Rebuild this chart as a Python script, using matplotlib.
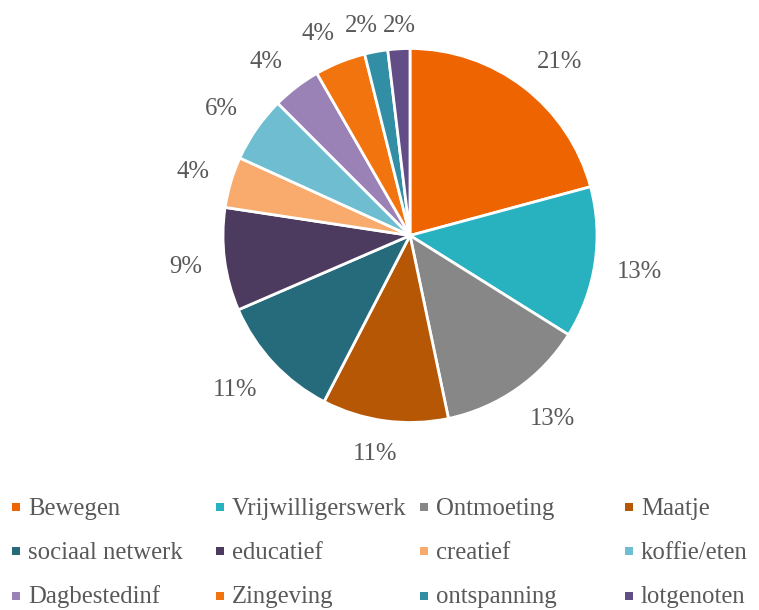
import matplotlib
matplotlib.use("Agg")
import numpy as np
import matplotlib.pyplot as plt
from matplotlib.patches import Rectangle

categories = ["Bewegen", "Vrijwilligerswerk", "Ontmoeting", "Maatje",
              "sociaal netwerk", "educatief", "creatief", "koffie/eten",
              "Dagbestedinf", "Zingeving", "ontspanning", "lotgenoten"]
shares = [20.8, 13.1, 12.8, 10.9, 10.9, 8.9, 4.4, 5.7, 4.2, 4.4, 2.0, 1.9]
colors = ["#EE6400", "#28B1BF", "#878787", "#B55705",
          "#256B7C", "#4D3A5F", "#F8AB6C", "#6EBDD0",
          "#9A82B6", "#F2740E", "#318EA5", "#634D86"]

plt.rcParams['font.family'] = ['Liberation Serif', 'DejaVu Serif']
W, H = 759, 610
fig = plt.figure(figsize=(W / 100, H / 100), dpi=100)
txt_color = "#595959"
FS = 17.8

cx, cy, r = 410, 235.5, 187
ax = fig.add_axes([(cx - r) / W, (H - cy - r) / H, 2 * r / W, 2 * r / H])
wedges, _ = ax.pie(shares, colors=colors, startangle=90, counterclock=False,
                   wedgeprops=dict(edgecolor="white", linewidth=2))
ax.set_xlim(-1, 1)
ax.set_ylim(-1, 1)
ax.set_aspect("equal")
ax.axis("off")

# outside-end data labels (Excel-like placement), working in pixels
fig.canvas.draw()
renderer = fig.canvas.get_renderer()
total = sum(shares)
gap, half_h, cap, k = 22, 9.5, 16.5, 2.3
top_limit = 211.5          # labels may not rise above this (chart-area edge)
texts, pos, halfw = [], [], []
for w, v in zip(wedges, shares):
    ang = np.deg2rad((w.theta1 + w.theta2) / 2)
    ux, uy = np.cos(ang), np.sin(ang)
    t = ax.text(0, 0, f"{v / total * 100:.0f}%", fontsize=FS, color=txt_color,
                ha="center", va="baseline", clip_on=False)
    bw = t.get_window_extent(renderer).width / 2
    px = (r + gap) * ux + bw * np.clip(k * ux, -1, 1)
    py = (r + gap) * uy + half_h * np.clip(k * uy, -1, 1)
    py = min(py, top_limit)
    texts.append(t)
    pos.append([px, py])
    halfw.append(bw)

# push apart neighbouring labels that collide
for _ in range(5):
    for i in range(len(pos) - 1):
        j = i + 1
        dx = pos[j][0] - pos[i][0]
        dy = pos[j][1] - pos[i][1]
        need = halfw[i] + halfw[j] + 5
        if abs(dy) < 20 and abs(dx) < need:
            s = (need - abs(dx)) / 2
            sign = 1 if dx >= 0 else -1
            pos[i][0] -= sign * s
            pos[j][0] += sign * s

for t, (px, py) in zip(texts, pos):
    t.set_position((px / r, (py - cap / 2) / r))

# legend laid out like the original (4 equal columns)
col_x = [12, 216, 420, 625]
row_y = [507, 551, 595.5]
sq = 8
for i, (lab, c) in enumerate(zip(categories, colors)):
    col, row = i % 4, i // 4
    x, y = col_x[col], row_y[row]
    fig.patches.append(Rectangle((x / W, (H - y - sq / 2) / H), sq / W, sq / H,
                                 transform=fig.transFigure, facecolor=c,
                                 edgecolor="none"))
    fig.text((x + 16) / W, (H - y - 8) / H, lab, fontsize=FS, color=txt_color,
             va="baseline", ha="left")

fig.savefig("out.png", dpi=100)
